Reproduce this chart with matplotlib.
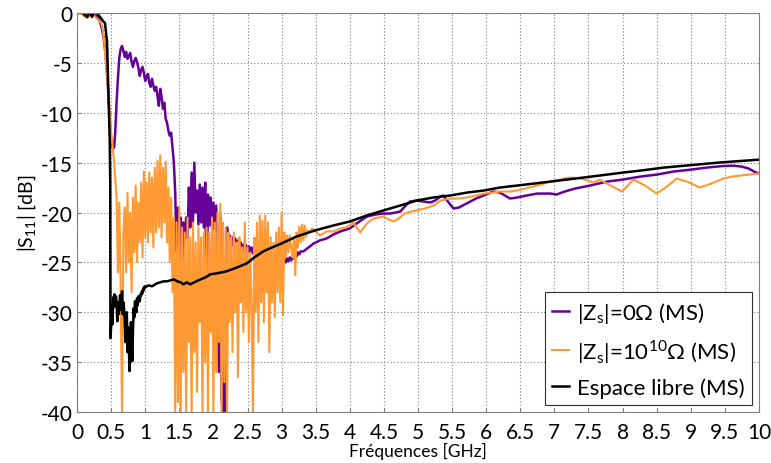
import numpy as np
import matplotlib
matplotlib.use("Agg")
import matplotlib.pyplot as plt
from matplotlib.ticker import FuncFormatter

# |Zs| = 0 ohm (purple)
p_head_f = [0, 0.05, 0.1, 0.15, 0.2, 0.25, 0.3, 0.33, 0.36, 0.39, 0.42, 0.45, 0.47, 0.49,
            0.51, 0.53, 0.545, 0.56, 0.58, 0.60, 0.62]
p_head_db = [0, 0.1, -0.1, -0.4, 0.1, -0.2, -0.4, -0.8, -1.4, -2.5, -4.2, -7.0, -9.5, -12.0,
             -13.2, -13.6, -13.4, -12.0, -9.0, -6.5, -4.5]
p_noise_start = 0.64  # step 0.02 GHz
p_noise_db = [
    -3.6, -3.3, -3.8, -4.4, -3.9, -4.6, -4.3, -4.0, -4.9, -5.4,
    -4.8, -4.5, -4.9, -5.5, -6.3, -5.7, -5.4, -6.0, -6.8, -6.4,
    -6.1, -7.0, -7.4, -6.6, -7.3, -7.8, -7.4, -8.3, -9.3, -7.6,
    -8.4, -9.6, -9.0, -10.6, -11.0, -11.8, -12.3, -12.0, -13.5, -15.0,
    -18.0, -24.0, -19.5, -24.5, -20.5, -33.5, -21.0, -23.0, -20.5, -22.5,
    -17.5, -21.5, -16.0, -21.0, -15.0, -20.0, -17.8, -21.2, -17.2, -21.0,
    -17.5, -21.5, -17.0, -30.0, -18.2, -21.3, -18.5, -21.6, -19.0, -21.8,
    -19.3, -22.0, -36.0, -20.3, -38.5, -40.5, -32.0, -41.0, -21.5, -23.0,
    -22.3, -23.2, -22.5, -23.5, -22.6, -23.6, -22.8, -23.8, -23.0, -23.9,
    -23.2, -24.0, -23.3, -24.0, -23.4, -24.0, -23.5, -24.1, -23.6, -24.2,
    -23.5, -24.3, -23.7, -24.2, -23.9, -24.4, -24.0, -24.5, -24.1, -24.6,
    -24.2, -24.7, -24.3, -24.8, -24.4, -24.9, -24.5, -25.0, -24.6, -25.1,
    -24.7, -25.0, -24.6, -24.9, -24.5, -24.8, -24.4, -24.6, -24.2, -24.4,
    -24.0, -24.2, -23.9]
p_tail_f = [3.32, 3.47, 3.56, 3.66, 3.76, 3.86, 4.0, 4.1, 4.25, 4.38, 4.49, 4.6, 4.74, 4.82,
            4.88, 4.98, 5.08, 5.18, 5.25, 5.33, 5.37, 5.45, 5.52, 5.6, 5.71, 5.85, 5.96, 6.1,
            6.2, 6.35, 6.45, 6.59, 6.75, 6.94, 7.03, 7.15, 7.3, 7.52, 7.77, 8.0, 8.26, 8.5,
            8.74, 9.0, 9.23, 9.45, 9.62, 9.75, 9.85, 9.93, 10.0]
p_tail_db = [-23.9, -23.1, -22.8, -22.6, -22.2, -21.9, -21.6, -21.1, -20.4, -20.2, -20.1, -20.1,
             -19.9, -19.3, -18.9, -18.8, -18.9, -19.0, -18.8, -18.4, -18.3, -19.0, -19.6, -19.5,
             -19.1, -18.6, -18.3, -17.9, -18.0, -18.6, -18.5, -18.3, -18.1, -18.1, -18.2, -17.9,
             -17.6, -17.3, -16.9, -16.7, -16.4, -16.2, -15.9, -15.7, -15.5, -15.35, -15.3, -15.4,
             -15.6, -15.9, -16.1]

# |Zs| = 1e10 ohm (orange)
o_head_f = [0, 0.05, 0.1, 0.15, 0.2, 0.25, 0.3, 0.34, 0.37, 0.40, 0.44, 0.47, 0.50, 0.54]
o_head_db = [-0.1, 0.0, -0.3, -0.5, -0.2, -0.3, -0.6, -0.9, -1.3, -3.0, -6.3, -9.0, -12.0, -14.6]
o_noise_start = 0.58  # step 0.02 GHz
o_noise_db = [
    -18.5, -26.0, -19.0, -27.5, -40.5, -22.0, -19.5, -26.0, -18.0, -25.0,
    -20.0, -28.0, -18.5, -24.0, -17.3, -25.0, -19.0, -23.0, -17.0, -24.5,
    -15.9, -22.5, -17.0, -23.0, -16.0, -22.0, -16.5, -23.5, -15.5, -22.0,
    -14.8, -21.5, -14.3, -22.5, -15.5, -21.0, -14.9, -23.0, -17.5, -25.0,
    -18.5, -28.0, -20.5, -40.5, -21.0, -39.0, -19.5, -40.5, -21.5, -36.0,
    -22.0, -40.5, -20.5, -33.0, -22.5, -40.5, -21.0, -34.0, -23.0, -38.0,
    -21.5, -31.0, -22.5, -40.5, -22.0, -35.0, -21.5, -40.5, -22.0, -32.0,
    -20.5, -40.5, -21.0, -36.0, -20.0, -33.0, -19.1, -40.5, -21.0, -37.0,
    -21.5, -40.5, -22.0, -31.0, -22.5, -34.0, -22.0, -30.0, -23.0, -36.5,
    -22.5, -29.0, -23.5, -32.0, -21.0, -30.0, -23.5, -33.0, -24.0, -29.0,
    -40.5, -22.5, -30.0, -21.0, -33.0, -20.3, -29.0, -20.8, -31.0, -20.3,
    -28.0, -21.0, -34.0, -22.5, -29.0, -23.0, -30.5, -22.0, -28.0, -21.5,
    -29.0, -20.0, -30.3, -22.0, -24.5, -22.3, -24.0, -22.3, -23.5, -24.5,
    -22.5, -26.3, -22.0, -23.5, -21.4, -23.0, -21.2, -22.8, -21.3, -22.4,
    -21.8, -22.0]
o_tail_f = [3.45, 3.56, 3.66, 3.76, 3.86, 3.95, 4.05, 4.15, 4.25, 4.35, 4.49, 4.57, 4.64, 4.72,
            4.8, 4.9, 4.98, 5.1, 5.23, 5.33, 5.47, 5.6, 5.71, 5.85, 5.96, 6.1, 6.2, 6.35, 6.45,
            6.57, 6.69, 6.8, 6.94, 7.03, 7.13, 7.23, 7.4, 7.57, 7.66, 7.8, 7.99, 8.16, 8.33,
            8.5, 8.65, 8.79, 8.95, 9.13, 9.3, 9.48, 9.6, 9.72, 9.85, 10.0]
o_tail_db = [-21.6, -22.3, -21.9, -21.9, -21.6, -21.5, -21.0, -22.0, -21.1, -20.6, -20.4, -20.7,
             -20.9, -20.6, -20.1, -19.9, -19.8, -19.6, -19.3, -18.8, -18.6, -18.6, -18.5, -18.3,
             -18.1, -18.0, -17.9, -17.9, -17.8, -17.6, -17.4, -17.2, -16.9, -16.8, -16.6, -16.5,
             -16.6, -17.0, -16.7, -17.2, -17.9, -16.7, -17.3, -18.1, -17.4, -16.6, -16.9, -17.5,
             -17.1, -16.6, -16.4, -16.3, -16.2, -16.1]

# free space (black)
b_head_f = [0, 0.05, 0.1, 0.15, 0.18, 0.22, 0.25, 0.3, 0.35, 0.38, 0.41, 0.44, 0.46, 0.48, 0.487]
b_head_db = [0, 0.1, -0.1, -0.4, 0.1, -0.4, 0.2, -0.1, -0.5, -0.8, -1.0, -2.9, -7.9, -12.9, -17.0]
b_noise_start = 0.49  # step 0.01 GHz
b_noise_db = [
    -32.6, -31.5, -30.0, -31.2, -28.5, -29.5, -28.2, -29.3, -28.4, -29.0,
    -30.9, -29.0, -30.2, -29.6, -28.3, -28.6, -29.8, -27.9, -30.2, -29.0,
    -29.6, -31.0, -33.0, -31.3, -30.0, -34.0, -31.5, -33.5, -35.9, -34.3,
    -31.0, -32.6, -34.9, -32.0, -29.6, -30.5, -28.9, -29.5, -30.0, -28.6,
    -29.3, -28.4, -28.6, -28.9, -28.2, -28.3, -27.9, -28.1, -27.6, -27.8,
    -27.4, -27.5]
b_tail_f = [1.05, 1.10, 1.17, 1.22, 1.27, 1.32, 1.37, 1.42, 1.47, 1.52, 1.56, 1.61, 1.66, 1.72,
            1.78, 1.85, 1.91, 1.95, 2.05, 2.19, 2.35, 2.49, 2.6, 2.73, 2.86, 3.0, 3.22, 3.49,
            3.76, 4.0, 4.25, 4.49, 4.74, 4.98, 5.22, 5.47, 5.72, 5.96, 6.2, 6.45, 6.7, 6.94,
            7.3, 7.6, 8.0, 8.26, 8.6, 9.0, 9.4, 9.7, 10.0]
b_tail_db = [-27.3, -27.4, -27.1, -27.0, -26.9, -26.9, -26.8, -26.7, -26.9, -27.0, -27.2, -27.0,
             -27.2, -27.0, -26.8, -26.6, -26.4, -26.2, -26.1, -25.9, -25.5, -25.1, -24.5, -23.9,
             -23.5, -23.1, -22.4, -21.8, -21.3, -20.9, -20.3, -19.8, -19.3, -18.8, -18.5, -18.3,
             -18.0, -17.8, -17.5, -17.3, -17.1, -16.9, -16.6, -16.35, -16.0, -15.8, -15.5, -15.25,
             -15.0, -14.85, -14.7]

labels = [r"|Z$_\mathrm{s}$|=0Ω (MS)", r"|Z$_\mathrm{s}$|=10$^{10}$Ω (MS)", "Espace libre (MS)"]
colors = ["#660099", "#FF9933", "#000000"]


def build(head_f, head_db, start, step, noise_db, tail_f, tail_db):
    grid = np.round(start + step * np.arange(len(noise_db)), 3)
    f = np.concatenate([head_f, grid, tail_f])
    db = np.concatenate([head_db, noise_db, tail_db])
    return f, db


plt.rcParams['font.family'] = ['Lato', 'DejaVu Sans']
plt.rcParams['axes.unicode_minus'] = False
plt.rcParams['mathtext.fontset'] = 'custom'
plt.rcParams['mathtext.rm'] = 'Lato'

fig = plt.figure(figsize=(7.71, 4.64), dpi=100)
ax = fig.add_axes([0.0999, 0.1099, 0.8845, 0.8599])

fp, dp = build(p_head_f, p_head_db, p_noise_start, 0.02, p_noise_db, p_tail_f, p_tail_db)
fo, do = build(o_head_f, o_head_db, o_noise_start, 0.02, o_noise_db, o_tail_f, o_tail_db)
fb, db = build(b_head_f, b_head_db, b_noise_start, 0.01, b_noise_db, b_tail_f, b_tail_db)

ax.plot(fp, dp, color=colors[0], lw=1.8, label=labels[0])
ax.plot(fo, do, color=colors[1], lw=1.5, label=labels[1])
ax.plot(fb, db, color=colors[2], lw=1.8, label=labels[2])

ax.set_xlim(0, 10)
ax.set_ylim(-40, 0)
ax.set_xticks(np.arange(0, 10.01, 0.5))
ax.set_yticks(np.arange(-40, 0.01, 5))
ax.xaxis.set_major_formatter(FuncFormatter(lambda v, p: "%g" % v))
ax.yaxis.set_major_formatter(FuncFormatter(lambda v, p: "%g" % v))
ax.tick_params(direction='in', length=3, color='#808080', labelsize=15)
ax.tick_params(axis='x', pad=7)
ax.tick_params(axis='y', pad=3)
ax.grid(True, linestyle=(0, (1, 2)), color='#808080', lw=0.8)
for s in ax.spines.values():
    s.set_color('#808080')

ax.set_xlabel("Fréquences [GHz]", fontsize=12.5, labelpad=0)
ax.set_ylabel(r"|S$_{11}$| [dB]", fontsize=14, labelpad=2)

leg = ax.legend(loc='lower right', fontsize=16, handlelength=0.75, handletextpad=0.35,
                labelspacing=0.55, borderaxespad=0.3, borderpad=0.35, fancybox=False,
                framealpha=1)
leg.get_frame().set_edgecolor('#303030')
leg.get_frame().set_linewidth(0.8)

fig.savefig("out.png", dpi=100)
